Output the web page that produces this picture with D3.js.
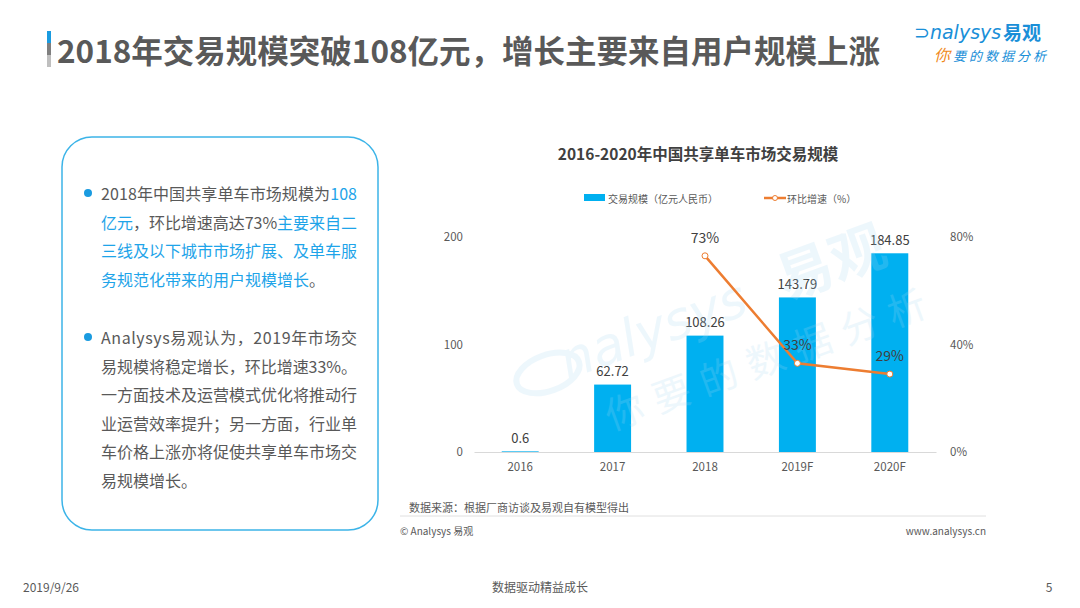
<!DOCTYPE html>
<html>
<head>
<meta charset="utf-8">
<script src="https://cdn.jsdelivr.net/npm/d3@7"></script>
<style>
  body { margin: 0; background: #fff; }
  svg { display: block; font-family: "Noto Sans CJK SC", "Noto Sans", sans-serif; }
</style>
</head>
<body>
<script>
// data
var years = ["2016", "2017", "2018", "2019F", "2020F"];
var scaleValues = [0.6, 62.72, 108.26, 143.79, 184.85];
var growthValues = [null, null, 0.73, 0.33, 0.29];
var leftTicks = [0, 100, 200];
var rightTicks = [0, 0.4, 0.8];

var pageTitle = "2018年交易规模突破108亿元，增长主要来自用户规模上涨";
var chartTitle = "2016-2020年中国共享单车市场交易规模";
var legendLabels = ["交易规模（亿元人民币）", "环比增速（%）"];

// paragraph lines, each a list of [text, isBlue]
var para1 = [
  [["2018年中国共享单车市场规模为", 0], ["108", 1]],
  [["亿元", 1], ["，环比增速高达73%", 0], ["主要来自二", 1]],
  [["三线及以下城市市场扩展、及单车服", 1]],
  [["务规范化带来的用户规模增长", 1], ["。", 0]]
];
var para2 = [
  [["Analysys易观认为，2019年市场交", 0]],
  [["易规模将稳定增长，环比增速33%。", 0]],
  [["一方面技术及运营模式优化将推动行", 0]],
  [["业运营效率提升；另一方面，行业单", 0]],
  [["车价格上涨亦将促使共享单车市场交", 0]],
  [["易规模增长。", 0]]
];

var W = 1080, H = 608;
var gray = "#595959", dark = "#404040", blue = "#1ea4e9";
var barBlue = "#00b0f0", orange = "#ed7d31";

var svg = d3.select("body").append("svg")
  .attr("width", W)
  .attr("height", H);

// page title with accent bar
svg.append("rect").attr("x", 47).attr("y", 31).attr("width", 4).attr("height", 12).attr("fill", "#1a9be0");
svg.append("rect").attr("x", 47).attr("y", 43).attr("width", 4).attr("height", 12).attr("fill", "#7f7f7f");
svg.append("rect").attr("x", 47).attr("y", 55).attr("width", 4).attr("height", 12).attr("fill", "#bfbfbf");
svg.append("text")
  .attr("x", 57).attr("y", 49)
  .attr("dominant-baseline", "central")
  .style("font-size", "31.5px")
  .style("font-weight", "bold")
  .style("fill", gray)
  .text(pageTitle);

// logo
var logo = svg.append("g");
logo.append("text")
  .attr("x", 914).attr("y", 39)
  .style("font-family", "'DejaVu Sans', sans-serif")
  .style("font-size", "19px")
  .style("font-style", "italic")
  .style("fill", "#1a8fd8")
  .text("⊃nalysys");
logo.append("text")
  .attr("x", 1003).attr("y", 40)
  .style("font-size", "19px")
  .style("font-weight", "bold")
  .style("fill", "#1a8fd8")
  .text("易观");
var sub = logo.append("text")
  .attr("x", 934).attr("y", 61)
  .style("font-size", "13px")
  .style("font-style", "italic")
  .style("letter-spacing", "3px");
sub.append("tspan").style("fill", "#f08a1c").style("font-size", "16px").text("你");
sub.append("tspan").style("fill", "#1a8fd8").text("要的数据分析");

// left text box
svg.append("rect")
  .attr("x", 62).attr("y", 137)
  .attr("width", 316).attr("height", 393)
  .attr("rx", 30).attr("ry", 30)
  .attr("fill", "none")
  .attr("stroke", "#3cb4e8")
  .attr("stroke-width", 1.5);

function drawPara(lines, y0) {
  svg.append("circle").attr("cx", 88).attr("cy", y0).attr("r", 4).attr("fill", "#1a9be0");
  lines.forEach(function(parts, i) {
    var t = svg.append("text")
      .attr("x", 101)
      .attr("y", y0 + i * 28.5)
      .attr("dominant-baseline", "central")
      .style("font-size", "16px");
    if (i < lines.length - 1) {
      t.attr("textLength", 256).attr("lengthAdjust", "spacing");
    }
    parts.forEach(function(p) {
      t.append("tspan").style("fill", p[1] ? blue : gray).text(p[0]);
    });
  });
}
drawPara(para1, 193);
drawPara(para2, 337);

// chart
var x = d3.scaleBand()
  .domain(years)
  .range([474, 936])
  .paddingInner(0.6)
  .paddingOuter(0.3);

var y = d3.scaleLinear().domain([0, 200]).range([452, 237]);
var y2 = d3.scaleLinear().domain([0, 0.8]).range([452, 237]);

svg.append("text")
  .attr("x", 698).attr("y", 153)
  .attr("text-anchor", "middle")
  .attr("dominant-baseline", "central")
  .style("font-size", "15.5px")
  .style("font-weight", "bold")
  .style("fill", dark)
  .text(chartTitle);

// legend
svg.append("rect").attr("x", 584).attr("y", 194).attr("width", 21).attr("height", 7).attr("fill", barBlue);
svg.append("text").attr("x", 608).attr("y", 198)
  .attr("dominant-baseline", "central")
  .style("font-size", "10px").style("fill", gray)
  .text(legendLabels[0]);
svg.append("line").attr("x1", 764).attr("x2", 786).attr("y1", 198).attr("y2", 198)
  .attr("stroke", orange).attr("stroke-width", 2.5);
svg.append("circle").attr("cx", 775).attr("cy", 198).attr("r", 2.5)
  .attr("fill", "#fff").attr("stroke", orange).attr("stroke-width", 1);
svg.append("text").attr("x", 787).attr("y", 198)
  .attr("dominant-baseline", "central")
  .style("font-size", "10px").style("fill", gray)
  .text(legendLabels[1]);

// axes
var axisLeft = svg.append("g")
  .attr("transform", "translate(474,0)")
  .call(d3.axisLeft(y).tickValues(leftTicks).tickSize(0).tickPadding(11));
var axisRight = svg.append("g")
  .attr("transform", "translate(936,0)")
  .call(d3.axisRight(y2).tickValues(rightTicks).tickSize(0).tickPadding(14).tickFormat(d3.format(".0%")));
var axisBottom = svg.append("g")
  .attr("transform", "translate(0,452)")
  .call(d3.axisBottom(x).tickSize(0).tickPadding(11));

[axisLeft, axisRight].forEach(function(a) { a.select(".domain").remove(); });
axisBottom.select(".domain").attr("stroke", "#d9d9d9");
svg.selectAll(".tick text")
  .style("font-family", "'Noto Sans CJK SC', sans-serif")
  .style("font-size", "11.5px")
  .style("fill", gray);

// bars
svg.selectAll("rect.bar")
  .data(scaleValues)
  .enter()
  .append("rect")
  .attr("class", "bar")
  .attr("x", function(d, i) { return x(years[i]); })
  .attr("y", function(d) { return y(d); })
  .attr("width", x.bandwidth())
  .attr("height", function(d) { return 452 - y(d); })
  .attr("fill", barBlue);

svg.selectAll("text.barlabel")
  .data(scaleValues)
  .enter()
  .append("text")
  .attr("class", "barlabel")
  .attr("x", function(d, i) { return x(years[i]) + x.bandwidth() / 2; })
  .attr("y", function(d) { return y(d) - 14; })
  .attr("text-anchor", "middle")
  .attr("dominant-baseline", "central")
  .style("font-size", "13px")
  .style("fill", dark)
  .text(function(d) { return d; });

// watermark
var wm = svg.append("g")
  .attr("transform", "translate(530,388) rotate(-20)")
  .style("opacity", 0.2)
  .style("fill", "#a9d8f3");
wm.append("ellipse").attr("cx", 22).attr("cy", -8).attr("rx", 33).attr("ry", 18)
  .attr("fill", "none").attr("stroke", "#a9d8f3").attr("stroke-width", 6);
wm.append("text").attr("x", 38).attr("y", 5)
  .style("font-size", "52px").style("font-style", "italic")
  .style("font-family", "'DejaVu Sans', sans-serif")
  .text("nalysys");
wm.append("text").attr("x", 270).attr("y", 5)
  .style("font-size", "56px").style("font-weight", "bold")
  .text("易观");
wm.append("text").attr("x", 62).attr("y", 68)
  .style("font-size", "38px").style("letter-spacing", "12px")
  .text("你要的数据分析");

// growth line
var pts = growthValues
  .map(function(d, i) { return { year: years[i], v: d }; })
  .filter(function(d) { return d.v !== null; });

var line = d3.line()
  .x(function(d) { return x(d.year) + x.bandwidth() / 2; })
  .y(function(d) { return y2(d.v); });

svg.append("path")
  .datum(pts)
  .attr("d", line)
  .attr("fill", "none")
  .attr("stroke", orange)
  .attr("stroke-width", 2.5);

svg.selectAll("circle.pt")
  .data(pts)
  .enter()
  .append("circle")
  .attr("class", "pt")
  .attr("cx", function(d) { return x(d.year) + x.bandwidth() / 2; })
  .attr("cy", function(d) { return y2(d.v); })
  .attr("r", 3)
  .attr("fill", "#fff")
  .attr("stroke", orange)
  .attr("stroke-width", 1);

svg.selectAll("text.ptlabel")
  .data(pts)
  .enter()
  .append("text")
  .attr("class", "ptlabel")
  .attr("x", function(d) { return x(d.year) + x.bandwidth() / 2; })
  .attr("y", function(d) { return y2(d.v) - 19; })
  .attr("text-anchor", "middle")
  .attr("dominant-baseline", "central")
  .style("font-size", "14px")
  .style("fill", dark)
  .text(function(d) { return d3.format(".0%")(d.v); });

// source and footer of chart
svg.append("text").attr("x", 409).attr("y", 507)
  .attr("dominant-baseline", "central")
  .style("font-size", "11px").style("fill", gray)
  .text("数据来源：根据厂商访谈及易观自有模型得出");
svg.append("line").attr("x1", 400).attr("x2", 986).attr("y1", 516).attr("y2", 516)
  .attr("stroke", "#e0e0e0").attr("stroke-width", 1);
svg.append("text").attr("x", 400).attr("y", 530)
  .attr("dominant-baseline", "central")
  .style("font-size", "10px").style("fill", gray)
  .text("© Analysys 易观");
svg.append("text").attr("x", 986).attr("y", 530)
  .attr("text-anchor", "end")
  .attr("dominant-baseline", "central")
  .style("font-size", "10px").style("fill", gray)
  .text("www.analysys.cn");

// page footer
svg.append("text").attr("x", 23).attr("y", 586)
  .attr("dominant-baseline", "central")
  .style("font-size", "12px").style("fill", gray)
  .text("2019/9/26");
svg.append("text").attr("x", 540).attr("y", 586)
  .attr("text-anchor", "middle")
  .attr("dominant-baseline", "central")
  .style("font-size", "12px").style("fill", gray)
  .text("数据驱动精益成长");
svg.append("text").attr("x", 1049).attr("y", 586)
  .attr("text-anchor", "middle")
  .attr("dominant-baseline", "central")
  .style("font-size", "12px").style("fill", gray)
  .text("5");
</script>
</body>
</html>
